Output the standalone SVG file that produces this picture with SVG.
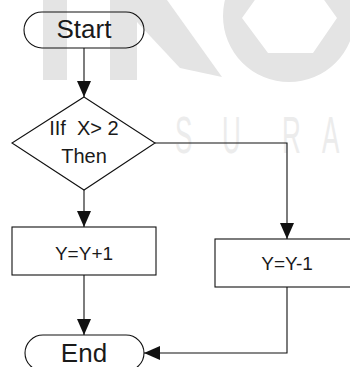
<svg xmlns="http://www.w3.org/2000/svg" width="350" height="367" viewBox="0 0 350 367">
  <defs>
    <style>
      .shape { fill: none; stroke: #111; stroke-width: 1.1; }
      .edge { fill: none; stroke: #111; stroke-width: 1.1; }
      .label { font-family: "Liberation Sans", Arial, sans-serif; fill: #1a1a1a; text-anchor: middle; }
      .big { font-size: 26px; }
      .mid { font-size: 20px; }
      .small { font-size: 19px; }
      .mark { fill: #e4e4e4; }
      .markText { font-family: "Liberation Sans", Arial, sans-serif; font-size: 52px; fill: #ececec; }
    </style>
    <marker id="arrow" viewBox="0 0 16 14" refX="16" refY="7" markerWidth="16" markerHeight="14" markerUnits="userSpaceOnUse" orient="auto">
      <path d="M0,0 L16,7 L0,14 Z" fill="#111"/>
    </marker>
  </defs>

  <rect width="350" height="367" fill="#fff"/>

  <!-- faint background logo -->
  <g id="watermark">
    <rect class="mark" x="43" y="0" width="24" height="80"/>
    <rect class="mark" x="110" y="0" width="27" height="80"/>
    <polygon class="mark" points="137,22 137,-20 167,0 222,77 180,68"/>
    <path class="mark" fill-rule="evenodd" d="M223,16 A66,66 0 1 0 355,16 A66,66 0 1 0 223,16 Z M242,18 L268,53 L313,53 L337,18 L312,-17 L267,-17 Z"/>
    <text class="markText" transform="translate(175,153) scale(0.5,1)">S</text>
    <text class="markText" transform="translate(222,153) scale(0.5,1)">U</text>
    <text class="markText" transform="translate(282,153) scale(0.5,1)">R</text>
    <text class="markText" transform="translate(322,153) scale(0.5,1)">A</text>
  </g>

  <g id="connectors">
    <path class="edge" d="M84,48 V97" marker-end="url(#arrow)"/>
    <path class="edge" d="M84,190 V227" marker-end="url(#arrow)"/>
    <path class="edge" d="M155,143 H287 V239" marker-end="url(#arrow)"/>
    <path class="edge" d="M84,275 V335" marker-end="url(#arrow)"/>
    <path class="edge" d="M287,287 V353 H144" marker-end="url(#arrow)"/>
  </g>

  <g id="start">
    <rect class="shape" x="24" y="12" width="120" height="36" rx="18" ry="18"/>
    <text class="label big" x="84" y="38">Start</text>
  </g>

  <g id="decision">
    <polygon class="shape" points="84,97 155,143 84,190 12,143"/>
    <text class="label mid" x="84" y="135" xml:space="preserve">IIf  X&gt; 2</text>
    <text class="label mid" x="84" y="163">Then</text>
  </g>

  <g id="increment">
    <rect class="shape" x="12" y="227" width="144" height="48"/>
    <text class="label small" x="84" y="260">Y=Y+1</text>
  </g>

  <g id="decrement">
    <rect class="shape" x="215" y="239" width="144" height="48"/>
    <text class="label small" x="287" y="270">Y=Y-1</text>
  </g>

  <g id="end">
    <rect class="shape" x="25" y="335" width="119" height="36" rx="18" ry="18"/>
    <text class="label big" x="84" y="362">End</text>
  </g>
</svg>
